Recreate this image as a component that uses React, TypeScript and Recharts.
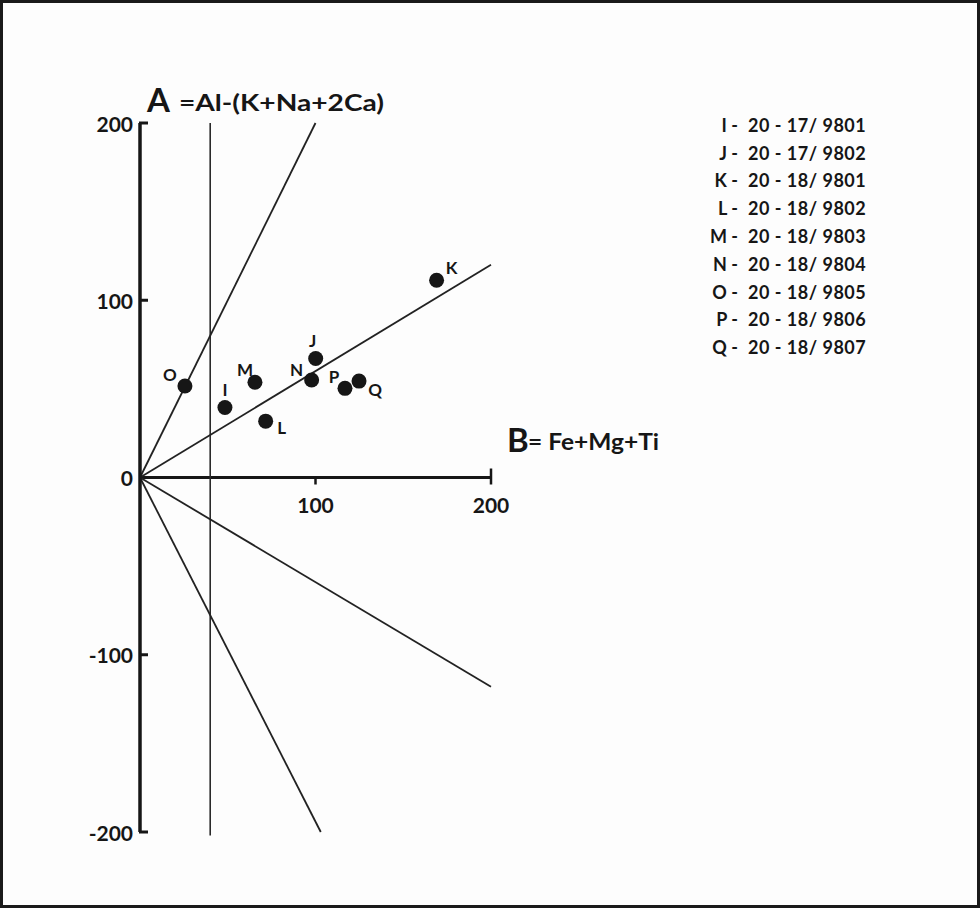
import React from "react";
import {
  ScatterChart,
  Scatter,
  XAxis,
  YAxis,
  ReferenceLine,
  ReferenceDot
} from "recharts";

// sample letters, B = Fe+Mg+Ti, A = Al-(K+Na+2Ca)
const pointNames = ["I", "J", "K", "L", "M", "N", "O", "P", "Q"];
const bValues = [48.4, 100.1, 169, 71.6, 65.5, 97.8, 25.6, 116.8, 124.8];
const aValues = [39.5, 67.1, 111.3, 31.8, 53.7, 55, 51.6, 50.3, 54.4];
const sampleIds = [
  "20 - 17/ 9801",
  "20 - 17/ 9802",
  "20 - 18/ 9801",
  "20 - 18/ 9802",
  "20 - 18/ 9803",
  "20 - 18/ 9804",
  "20 - 18/ 9805",
  "20 - 18/ 9806",
  "20 - 18/ 9807"
];

const yTicks = [-200, -100, 0, 100, 200];
const xTicks = [100, 200];

// fan lines drawn from the origin
const fanEndB = [100, 200, 200, 103];
const fanEndA = [200, 120, -118, -200];
const boundaryB = 40;

const points = pointNames.map((name, i) => ({ name, b: bValues[i], a: aValues[i] }));

const INK = "#161616";
const FONT = "Lato, 'DejaVu Sans', sans-serif";

// where each letter sits relative to its dot (px)
const labelOffsets: Record<string, [number, number]> = {
  I: [0, -18],
  J: [-3, -18],
  K: [15, -13],
  L: [16, 6],
  M: [-10, -13],
  N: [-15, -11],
  O: [-15, -12],
  P: [-11, -12],
  Q: [16, 8]
};

const PointMark = (props: any) => {
  const { cx, cy, payload } = props;
  const [dx, dy] = labelOffsets[payload.name] || [10, -10];
  return (
    <g>
      <circle cx={cx} cy={cy} r={7.5} fill={INK} />
      <text
        x={cx + dx}
        y={cy + dy}
        textAnchor="middle"
        dominantBaseline="central"
        fontFamily={FONT}
        fontWeight={700}
        fontSize={17}
        fill={INK}
      >
        {payload.name}
      </text>
    </g>
  );
};

const YTick = (props: any) => {
  const { x, y, payload } = props;
  return (
    <g>
      {payload.value !== 0 && (
        <line x1={x + 6} x2={x + 15} y1={y} y2={y} stroke={INK} strokeWidth={3} />
      )}
      <text
        x={x}
        y={y}
        textAnchor="end"
        dominantBaseline="central"
        fontFamily={FONT}
        fontWeight={700}
        fontSize={21}
        fill={INK}
      >
        {payload.value}
      </text>
    </g>
  );
};

const xTickShape = (value: number) => (props: any) => {
  const { cx, cy } = props;
  const last = value === xTicks[xTicks.length - 1];
  return (
    <g>
      <line x1={cx} x2={cx} y1={last ? cy - 9 : cy} y2={cy + 7} stroke={INK} strokeWidth={2.5} />
      <text
        x={cx}
        y={cy + 27}
        textAnchor="middle"
        dominantBaseline="central"
        fontFamily={FONT}
        fontWeight={700}
        fontSize={21}
        fill={INK}
      >
        {value}
      </text>
    </g>
  );
};

const aTitle = (props: any) => {
  const { cx, cy } = props;
  return (
    <g fontFamily={FONT} fontWeight={700} fill={INK}>
      <text x={cx + 7} y={cy - 11} fontSize={33}>A</text>
      <text x={cx + 39} y={cy - 12} fontSize={23} textLength={205} lengthAdjust="spacingAndGlyphs">
        =Al-(K+Na+2Ca)
      </text>
    </g>
  );
};

const bTitle = (props: any) => {
  const { cx, cy } = props;
  return (
    <g fontFamily={FONT} fontWeight={700} fill={INK}>
      <text x={cx + 16} y={cy - 26} fontSize={33}>B</text>
      <text x={cx + 37} y={cy - 28} fontSize={22} textLength={131} lengthAdjust="spacingAndGlyphs">
        = Fe+Mg+Ti
      </text>
    </g>
  );
};

const SampleLegend = () => (
  <div
    style={{
      position: "absolute",
      top: 111,
      left: 700,
      fontFamily: FONT,
      fontWeight: 700,
      fontSize: 18,
      color: INK
    }}
  >
    {pointNames.map((name, i) => (
      <div key={name} style={{ display: "flex", height: 27.8, alignItems: "center" }}>
        <span style={{ width: 38, textAlign: "right", paddingRight: 10 }}>{name} -</span>
        <span style={{ whiteSpace: "pre", letterSpacing: 0.5 }}>{sampleIds[i]}</span>
      </div>
    ))}
  </div>
);

export default function App() {
  return (
    <div style={{ position: "absolute", left: 0, top: 0, width: 980, height: 908, background: "#fdfdfd" }}>
      <ScatterChart
        width={980}
        height={908}
        margin={{ top: 123, right: 489, bottom: 76, left: 80 }}
      >
        <XAxis type="number" dataKey="b" domain={[0, 200]} hide />
        <YAxis
          type="number"
          dataKey="a"
          domain={[-200, 200]}
          ticks={yTicks}
          width={60}
          tickSize={0}
          tickMargin={7}
          tick={<YTick />}
          tickLine={false}
          axisLine={{ stroke: INK, strokeWidth: 3.5 }}
        />
        <ReferenceLine
          segment={[{ x: 0, y: 0 }, { x: 200, y: 0 }]}
          stroke={INK}
          strokeWidth={3}
          ifOverflow="visible"
        />
        <ReferenceLine
          segment={[{ x: boundaryB, y: 200 }, { x: boundaryB, y: -202 }]}
          stroke="#2a2a2a"
          strokeWidth={1.6}
          ifOverflow="visible"
        />
        {fanEndB.map((b, i) => (
          <ReferenceLine
            key={i}
            segment={[{ x: 0, y: 0 }, { x: b, y: fanEndA[i] }]}
            stroke="#222"
            strokeWidth={1.8}
            ifOverflow="visible"
          />
        ))}
        {xTicks.map((v) => (
          <ReferenceDot key={v} x={v} y={0} r={0} ifOverflow="visible" shape={xTickShape(v)} />
        ))}
        <ReferenceDot x={0} y={200} r={0} ifOverflow="visible" shape={aTitle} />
        <ReferenceDot x={200} y={0} r={0} ifOverflow="visible" shape={bTitle} />
        <Scatter data={points} isAnimationActive={false} shape={PointMark} />
      </ScatterChart>
      <SampleLegend />
      <div
        style={{
          position: "absolute",
          left: 0,
          top: 0,
          width: 980,
          height: 908,
          boxSizing: "border-box",
          border: "3px solid #1a1a1a",
          pointerEvents: "none"
        }}
      />
    </div>
  );
}
